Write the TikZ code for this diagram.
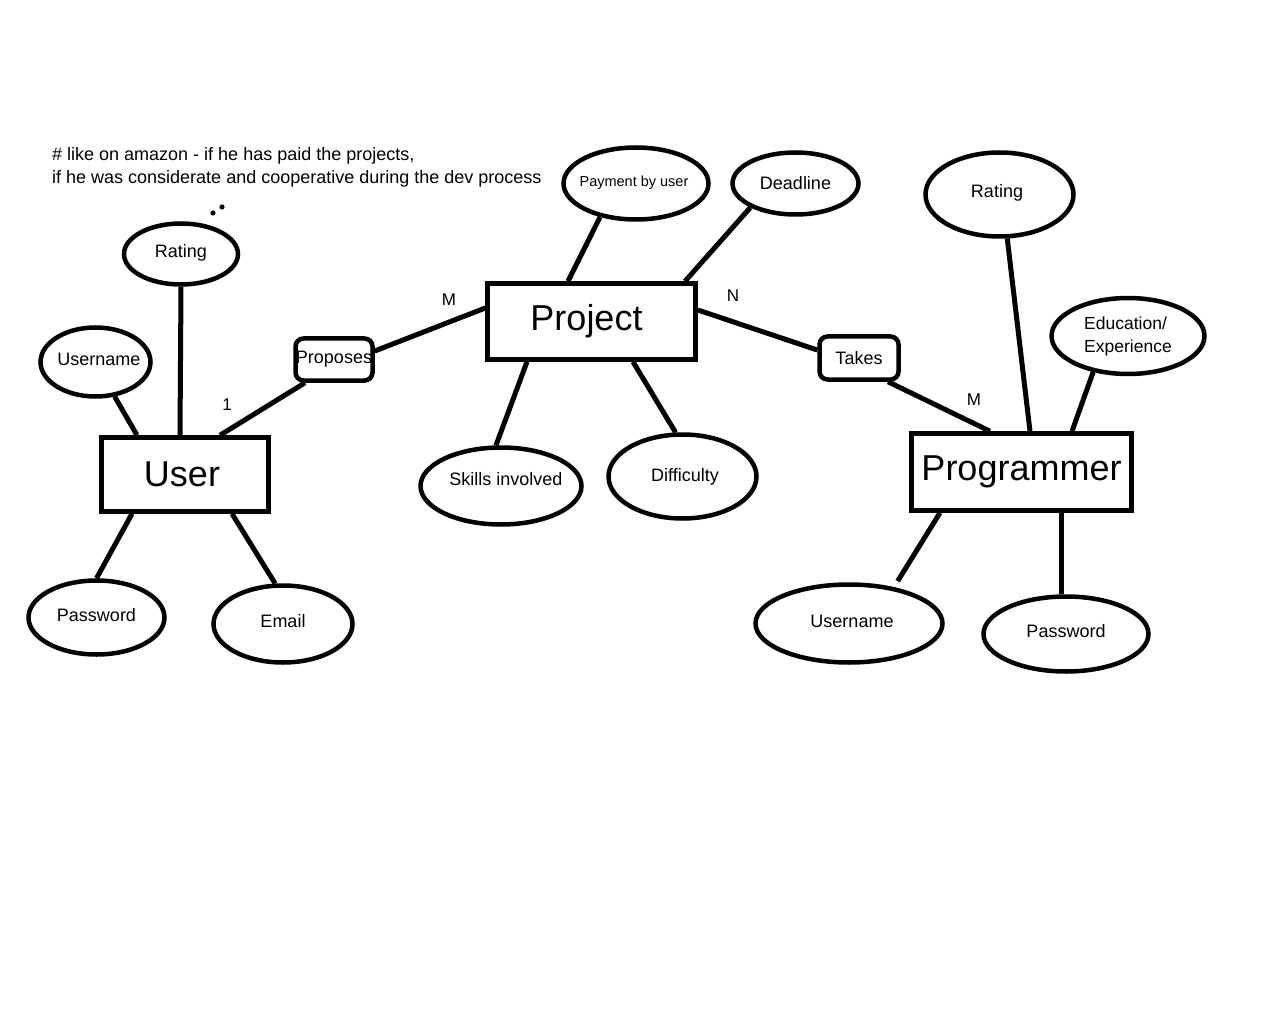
\documentclass[tikz,border=0pt]{standalone}
\usepackage{fontspec}
\setmainfont{Liberation Sans}
\usetikzlibrary{shapes.geometric,calc}
\newcommand\shtxt[2]{\makebox[0pt]{\hspace*{#1}#2\hspace*{-#1}}}
\begin{document}
\begin{tikzpicture}[x=1pt,y=-1pt,
  every node/.style={font=\fontsize{18}{21}\selectfont},
  ent/.style={draw, line width=4.5pt, inner sep=0pt, font=\fontsize{36}{40}\selectfont},
  attr/.style={draw, ellipse, line width=4.5pt, inner sep=0pt},
  lift/.style={text height=13pt, text depth=#1},
  lift/.default=6pt,
  rel/.style={draw, rounded corners=8pt, line width=4.5pt, inner sep=0pt},
  conn/.style={line width=5pt},
  card/.style={font=\fontsize{17}{20}\selectfont, inner sep=0pt},
  note/.style={font=\fontsize{18}{21}\selectfont, inner sep=0pt, anchor=base west}]
\useasboundingbox (0,0) rectangle (1280,1024);
\fill[white] (0,0) rectangle (1280,1024);

% note
\node[note] (note1) at (52,161) {\# like on amazon - if he has paid the projects,};
\node[note] (note2) at (52,184) {if he was considerate and cooperative during the dev process};
\fill (213,213) circle (2.6pt);
\fill (222,207) circle (2.6pt);

% entities
\node[ent, minimum width=167pt, minimum height=74pt] (user) at (185,474.5) {\shtxt{-3pt}{User}};
\node[ent, minimum width=208pt, minimum height=76pt] (project) at (591.5,321.5) {\shtxt{-5pt}{Project}};
\node[ent, minimum width=220pt, minimum height=77pt] (prog) at (1021.5,472) {Programmer};

% relationships
\node[rel, minimum width=77pt, minimum height=42pt] (proposes) at (334,359.5) {\shtxt{0pt}{Proposes}};
\node[rel, minimum width=79pt, minimum height=43pt] (takes) at (859,358) {Takes};

% attributes
\node[attr, lift, minimum width=114pt, minimum height=61pt] (urating) at (181,254) {\shtxt{0pt}{Rating}};
\node[attr, lift, minimum width=110pt, minimum height=69pt] (uname) at (95.5,362) {\shtxt{3.5pt}{Username}};
\node[attr, lift, minimum width=136pt, minimum height=74pt] (upass) at (96.5,617.5) {\shtxt{0pt}{Password}};
\node[attr, lift, minimum width=139pt, minimum height=77pt] (uemail) at (283,624) {\shtxt{0pt}{Email}};
\node[attr, minimum width=145pt, minimum height=72pt, font=\fontsize{14.5}{17}\selectfont, text height=10.5pt, text depth=5pt] (payment) at (636,183.5) {\shtxt{-2pt}{Payment by user}};
\node[attr, minimum width=126pt, minimum height=62pt] (deadline) at (795.5,183.5) {\shtxt{0pt}{Deadline}};
\node[attr, lift=14pt, minimum width=161pt, minimum height=77pt] (skills) at (501,486) {\shtxt{5pt}{Skills involved}};
\node[attr, minimum width=148pt, minimum height=84pt] (diff) at (682.5,476.5) {\shtxt{2.5pt}{Difficulty}};
\node[attr, lift, minimum width=148pt, minimum height=84pt] (prating) at (999.5,194.5) {\shtxt{-2.5pt}{Rating}};
\node[attr, minimum width=153pt, minimum height=76pt, align=left, font=\fontsize{17.5}{23}\selectfont] (edu) at (1128,336) {Education/\\Experience};
\node[attr, lift, minimum width=187pt, minimum height=78pt] (puname) at (849,623.5) {\shtxt{3pt}{Username}};
\node[attr, lift, minimum width=165pt, minimum height=75pt] (ppass) at (1066,634) {\shtxt{0pt}{Password}};

% cardinalities
\node[card] (cm1) at (449,300) {M};
\node[card] (c1) at (227,405) {1};
\node[card] (cn) at (733,296) {N};
\node[card] (cm2) at (974,400) {M};

% connectors
\draw[conn] (urating.south) -- ([xshift=-5pt]user.north);
\draw[conn] (uname.-61) -- ([xshift=-48pt]user.north);
\draw[conn] ([xshift=35pt]user.north) -- ([xshift=-29pt]proposes.south);
\draw[conn] ([yshift=8.5pt]proposes.east) -- ([yshift=13.5pt]project.west);
\draw[conn] ([yshift=11.5pt]project.east) -- ([yshift=8pt]takes.west);
\draw[conn] ([xshift=29pt]takes.south) -- ([xshift=-31.5pt]prog.north);
\draw[conn] (payment.-137) -- ([xshift=-23.5pt]project.north);
\draw[conn] (deadline.-152) -- ([xshift=93.5pt]project.north);
\draw[conn] ([xshift=-64.5pt]project.south) -- (skills.97);
\draw[conn] ([xshift=41.5pt]project.south) -- (diff.99);
\draw[conn] (prating.-80) -- ([xshift=8.5pt]prog.north);
\draw[conn] (edu.-134) -- ([xshift=50.5pt]prog.north);
\draw[conn, shorten >=7pt] ([xshift=-81.5pt]prog.south) -- (puname.39);
\draw[conn] ([xshift=39.5pt]prog.south) -- ([xshift=-5pt]ppass.north);
\draw[conn] ([xshift=-53pt]user.south) -- (upass.north);
\draw[conn] ([xshift=47pt]user.south) -- (uemail.101);
\end{tikzpicture}
\end{document}
